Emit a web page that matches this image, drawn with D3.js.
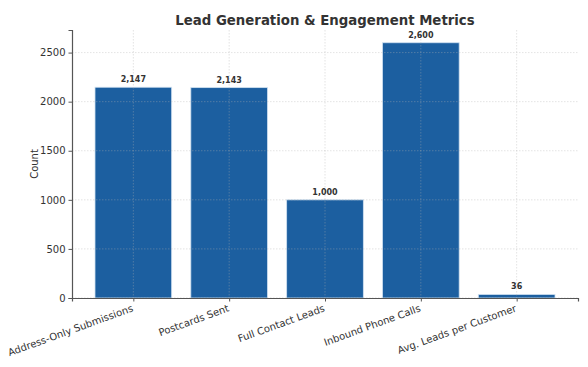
<!DOCTYPE html>
<html>
<head>
<meta charset="utf-8">
<script src="https://cdn.jsdelivr.net/npm/d3@7"></script>
<style>
  body { margin: 0; background: #fff; }
  text { font-family: "DejaVu Sans", sans-serif; }
</style>
</head>
<body>
<div id="chart"></div>
<script>
// Chart data
var categories = ["Address-Only Submissions", "Postcards Sent", "Full Contact Leads", "Inbound Phone Calls", "Avg. Leads per Customer"];
var counts = [2147, 2143, 1000, 2600, 36];
var yTicks = [0, 500, 1000, 1500, 2000, 2500];

var svgWidth = 588;
var svgHeight = 367;

var margin = { top: 30, right: 10, bottom: 69, left: 72 };
var width = svgWidth - margin.left - margin.right;
var height = svgHeight - margin.top - margin.bottom;

var svg = d3.select("#chart")
    .append("svg")
    .attr("width", svgWidth)
    .attr("height", svgHeight);

var chartGroup = svg.append("g")
    .attr("transform", `translate(${margin.left}, ${margin.top})`);

// scales (matplotlib-like margins: 5 bars, width 0.8)
var xScale = d3.scaleLinear()
    .domain([-0.64, categories.length - 1 + 0.64])
    .range([0, width]);

var yScale = d3.scaleLinear()
    .domain([0, d3.max(counts) * 1.05])
    .range([height, 0]);

var barW = xScale(0.8) - xScale(0);

// bars
chartGroup.selectAll("rect.bar")
    .data(counts)
    .enter()
    .append("rect")
    .attr("class", "bar")
    .attr("x", (d, i) => xScale(i - 0.4))
    .attr("y", d => yScale(d))
    .attr("width", barW)
    .attr("height", d => height - yScale(d))
    .attr("fill", "#1c5fa0")
    .attr("stroke", "#cfe0f0")
    .attr("stroke-width", 0.8);

// grid (drawn above bars)
chartGroup.selectAll("line.hgrid")
    .data(yTicks)
    .enter()
    .append("line")
    .attr("x1", 0)
    .attr("x2", width)
    .attr("y1", d => yScale(d))
    .attr("y2", d => yScale(d))
    .attr("stroke", "#b0b0b0")
    .attr("stroke-opacity", 0.45)
    .attr("stroke-dasharray", "1.5,1.5")
    .attr("stroke-width", 0.8);

chartGroup.selectAll("line.vgrid")
    .data(categories)
    .enter()
    .append("line")
    .attr("x1", (d, i) => xScale(i))
    .attr("x2", (d, i) => xScale(i))
    .attr("y1", 0)
    .attr("y2", height)
    .attr("stroke", "#b0b0b0")
    .attr("stroke-opacity", 0.45)
    .attr("stroke-dasharray", "1.5,1.5")
    .attr("stroke-width", 0.8);

// axes
var leftAxis = d3.axisLeft(yScale).tickValues(yTicks).tickSize(3.5).tickPadding(3).tickFormat(d3.format("d"));
var bottomAxis = d3.axisBottom(xScale).tickValues(d3.range(categories.length)).tickSize(3.5).tickFormat(i => categories[i]);

var yAxisG = chartGroup.append("g").call(leftAxis);
yAxisG.select(".domain").attr("stroke", "#555").attr("stroke-width", 1.2);
yAxisG.selectAll(".tick line").attr("stroke", "#555");
yAxisG.selectAll(".tick text").attr("font-size", "10px").attr("fill", "#333");

var xAxisG = chartGroup.append("g")
    .attr("transform", `translate(0, ${height})`)
    .call(bottomAxis);
xAxisG.select(".domain").attr("stroke", "#555").attr("stroke-width", 1.2);
xAxisG.selectAll(".tick line").attr("stroke", "#555");
xAxisG.selectAll(".tick text")
    .attr("font-size", "10px")
    .attr("fill", "#333")
    .attr("text-anchor", "end")
    .attr("dy", 0)
    .attr("y", 0)
    .attr("transform", "translate(0, 13) rotate(-20)");

// value labels
chartGroup.selectAll("text.val")
    .data(counts)
    .enter()
    .append("text")
    .attr("class", "val")
    .attr("x", (d, i) => xScale(i))
    .attr("y", d => yScale(d) - 5)
    .attr("text-anchor", "middle")
    .attr("font-size", "8px")
    .attr("font-weight", "bold")
    .attr("fill", "#333")
    .text(d => d3.format(",")(d));

// y label
chartGroup.append("text")
    .attr("transform", "rotate(-90)")
    .attr("x", -height / 2)
    .attr("y", -34)
    .style("text-anchor", "middle")
    .attr("font-size", "10px")
    .attr("fill", "#333")
    .text("Count");

// title
svg.append("text")
    .attr("x", margin.left + width / 2)
    .attr("y", 25)
    .style("text-anchor", "middle")
    .attr("font-size", "13.3px")
    .attr("font-weight", "bold")
    .attr("fill", "#333")
    .text("Lead Generation & Engagement Metrics");
</script>
</body>
</html>
